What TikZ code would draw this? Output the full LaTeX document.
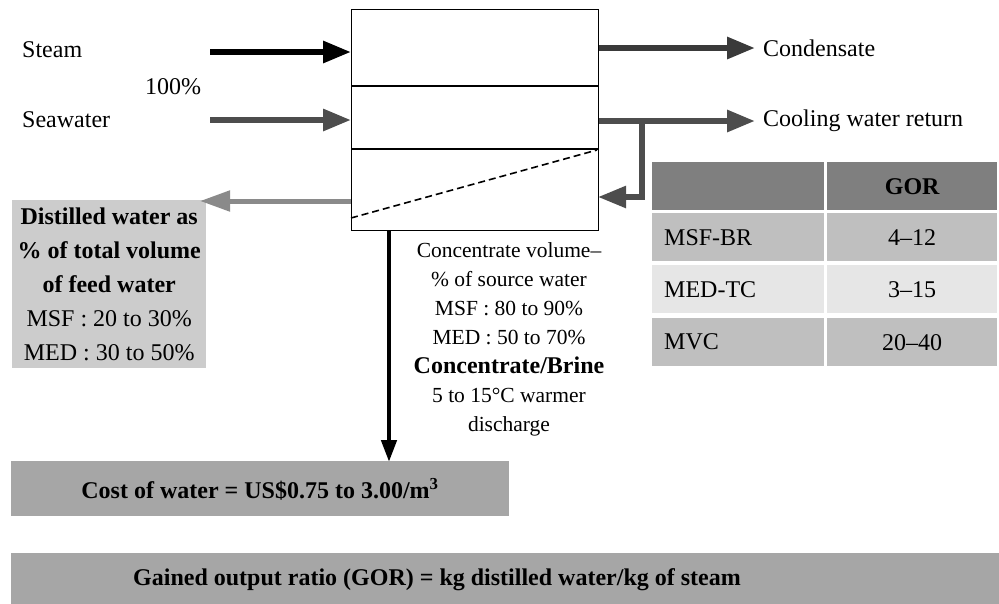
\documentclass[tikz,border=0pt]{standalone}
\usepackage{fontspec}
\setmainfont{Liberation Serif}
\usetikzlibrary{arrows.meta}

\definecolor{steamcol}{HTML}{000000}
\definecolor{seacol}{HTML}{4D4D4D}
\definecolor{condcol}{HTML}{3A3A3A}
\definecolor{distcol}{HTML}{8A8A8A}
\definecolor{distbox}{HTML}{CCCCCC}
\definecolor{notebox}{HTML}{A6A6A6}
\definecolor{headcell}{HTML}{7F7F7F}
\definecolor{darkcell}{HTML}{BFBFBF}
\definecolor{lightcell}{HTML}{E6E6E6}

\begin{document}
\begin{tikzpicture}[x=1pt,y=-1pt,
  lbl/.style={font=\fontsize{24}{28}\selectfont, inner sep=0pt},
  flow/.style={line width=6pt, -{Triangle[length=28pt,width=21pt]}},
  thinflow/.style={line width=4.5pt, -{Triangle[length=22pt,width=15pt]}},
  cell/.style={anchor=north west, minimum height=48pt, inner ysep=0pt,
    font=\fontsize{24}{28}\selectfont},
  leftcell/.style={cell, text width=148pt, inner xsep=12pt, align=left},
  rightcell/.style={cell, minimum width=170pt, inner xsep=0pt},
  note/.style={fill=notebox, inner sep=0pt, anchor=north west}
]
\useasboundingbox (0,0) rectangle (999,603);

% evaporator unit with its three compartments
\node[draw, line width=1.2pt, minimum width=247pt, minimum height=221pt,
      inner sep=0pt, anchor=north west] (unit) at (351,9) {};
\coordinate (d1w) at (351,86);  \coordinate (d1e) at (598,86);
\coordinate (d2w) at (351,149); \coordinate (d2e) at (598,149);
\draw[line width=1.2pt] (d1w) -- (d1e);
\draw[line width=1.2pt] (d2w) -- (d2e);
\coordinate (brw) at (351,218); \coordinate (bre) at (597,150);
\draw[line width=1.6pt, dash pattern=on 7pt off 4pt] (brw) -- (bre);

% inlet labels and arrows
\node[lbl, anchor=west] (steam) at (22,50) {Steam};
\node[lbl] (pct) at (173,87) {100\%};
\node[lbl, anchor=west] (sea) at (22,120) {Seawater};
\coordinate (steamin) at (210,52);
\coordinate (seain) at (210,120);
\draw[flow, steamcol] (steamin) -- (unit.west |- steamin);
\draw[flow, seacol] (seain) -- (unit.west |- seain);

% outlet labels and arrows
\node[lbl, anchor=west] (cond) at (763,48) {Condensate};
\node[lbl, anchor=west] (cwr) at (763,121) {Cooling water return};
\coordinate (condout) at (755,48);
\coordinate (cwrout) at (755,121);
\draw[flow, condcol] (unit.east |- condout) -- (condout);
\draw[flow, seacol] (unit.east |- cwrout) -- (cwrout);
\coordinate (split) at (642,121);
\coordinate (recyc) at (598,197);
\draw[flow, seacol, line width=5.5pt] (split) |- (recyc);

% distillate
\node[fill=distbox, minimum width=194pt, minimum height=168pt, inner sep=0pt,
      anchor=north west, align=center, font=\fontsize{24}{34}\selectfont] (dist) at (12,200)
  {\bfseries Distilled water as\\
   \bfseries \% of total volume\\
   \bfseries of feed water\\
   MSF : 20 to 30\%\\
   MED : 30 to 50\%};
\coordinate (distsrc) at (351,201);
\coordinate (disttip) at (200,201);
\draw[distcol, line width=5pt, -{Triangle[length=30pt,width=20pt]}] (distsrc) -- (disttip);

% concentrate discharge
\coordinate (brsrc) at (389,230);
\coordinate (brtip) at (389,462);
\draw[thinflow, black] (brsrc) -- (brtip);
\node[align=center, inner sep=0pt, font=\fontsize{21.5}{29}\selectfont] (conc) at (509,339)
  {Concentrate volume–\\
   \% of source water\\
   MSF : 80 to 90\%\\
   MED : 50 to 70\%\\
   \fontsize{24}{33}\selectfont\bfseries Concentrate/Brine\\
   5 to 15°C warmer\\
   discharge};

% cost and GOR notes
\node[note, minimum width=498pt, minimum height=55pt] (cost) at (11,461) {};
\node[lbl, font=\fontsize{24}{28}\selectfont\bfseries] (costtxt) at (260,489)
  {Cost of water = US\$0.75 to 3.00/m\textsuperscript{3}};
\node[note, minimum width=988pt, minimum height=52pt] (gorbox) at (11,553) {};
\node[lbl, font=\fontsize{24}{28}\selectfont\bfseries] (gortxt) at (437,580)
  {Gained output ratio (GOR) = kg distilled water/kg of steam};

% GOR table
\node[leftcell, fill=headcell] (h1) at (652,162) {};
\node[rightcell, fill=headcell, font=\fontsize{24}{28}\selectfont\bfseries] (h2) at (827,162) {GOR};
\node[leftcell, fill=darkcell] (r1a) at (652,213) {MSF-BR};
\node[rightcell, fill=darkcell] (r1b) at (827,213) {4–12};
\node[leftcell, fill=lightcell] (r2a) at (652,265) {MED-TC};
\node[rightcell, fill=lightcell] (r2b) at (827,265) {3–15};
\node[leftcell, fill=darkcell] (r3a) at (652,318) {MVC};
\node[rightcell, fill=darkcell] (r3b) at (827,318) {20–40};
\end{tikzpicture}
\end{document}
